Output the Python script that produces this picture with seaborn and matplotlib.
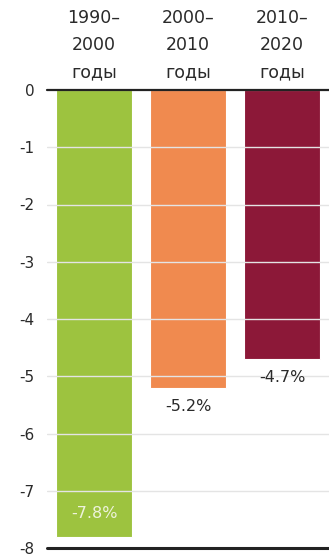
import matplotlib
matplotlib.use("Agg")
import matplotlib.pyplot as plt
import seaborn as sns
import pandas as pd

# Decade-by-decade change, percent
periods = ["1990–\n2000\nгоды", "2000–\n2010\nгоды", "2010–\n2020\nгоды"]
changes = [-7.8, -5.2, -4.7]
bar_colors = ["#9dc33f", "#f08a4f", "#8c1838"]
y_ticks = [0, -1, -2, -3, -4, -5, -6, -7, -8]

df = pd.DataFrame({"period": periods, "change": changes})

sns.set_theme(style="white")
plt.rcParams["font.family"] = ["DejaVu Sans"]

fig = plt.figure(figsize=(3.29, 5.55), dpi=100)
ax = fig.add_axes([47 / 329, 1 - 548 / 555, 1 - 47 / 329, (548 - 90) / 555])

sns.barplot(data=df, x="period", y="change", hue="period",
            palette=bar_colors, saturation=1, legend=False, width=0.8,
            edgecolor="white", linewidth=0.8, ax=ax, zorder=2)

ax.set_ylim(-8, 0)
ax.set_xlim(-0.5, 2.5)
ax.set_yticks(y_ticks)
ax.set_yticklabels([str(t) for t in y_ticks], fontsize=11, color="#2a2a2a")
ax.tick_params(axis="y", length=0, pad=9)
ax.set_xticks([])
ax.set_xlabel("")
ax.set_ylabel("")

# light grid lines drawn over the bars
for t in y_ticks[1:-1]:
    ax.axhline(t, color="#e4e4e4", linewidth=1.0, zorder=3)
ax.axhline(0, color="#222222", linewidth=1.6, zorder=4, clip_on=False)
ax.axhline(-8, color="#222222", linewidth=2.2, zorder=4, clip_on=False)

for s in ax.spines.values():
    s.set_visible(False)

# period headers above the plot
for i, p in enumerate(periods):
    for j, line in enumerate(p.split("\n")):
        ax.annotate(line, xy=(i, 1), xycoords=("data", "axes fraction"),
                    xytext=(0, 51.8 - 19.4 * j), textcoords="offset points",
                    ha="center", va="center", fontsize=12.5, color="#2a2a2a")

# value labels
for i, v in enumerate(changes):
    label = f"{v:.1f}%"
    if i == 0:
        ax.annotate(label, xy=(i, v), xytext=(0, 16.5), textcoords="offset points",
                    ha="center", va="center", fontsize=11.5, color="#eef3dc", zorder=5)
    else:
        ax.annotate(label, xy=(i, v), xytext=(0, -13.6), textcoords="offset points",
                    ha="center", va="center", fontsize=11.5, color="#2a2a2a", zorder=5)

fig.savefig("out.png", dpi=100)
